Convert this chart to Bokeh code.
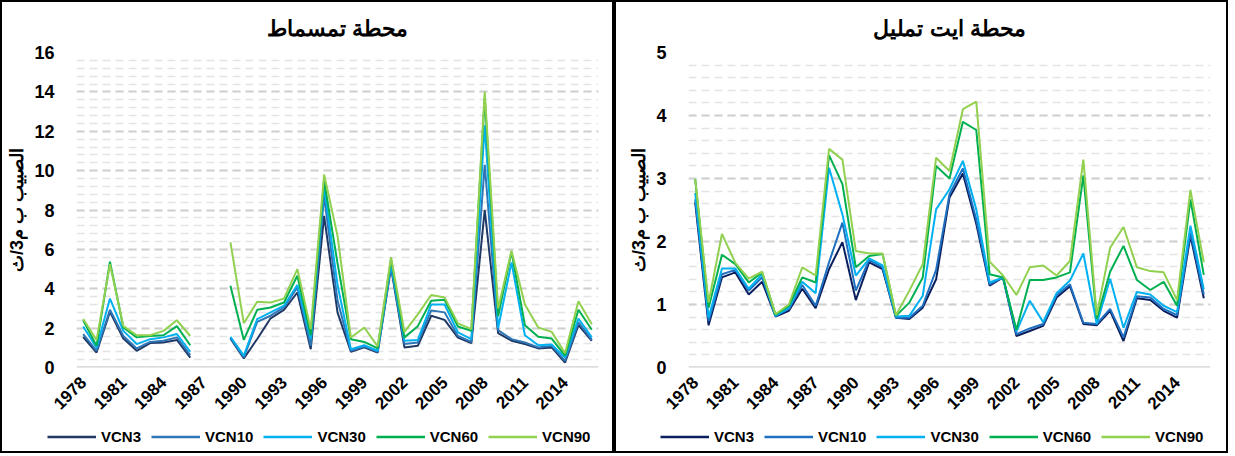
import math
from bokeh.plotting import figure
from bokeh.models import SingleIntervalTicker, FixedTicker, Legend, LegendItem, Span
from bokeh.layouts import row, column
from bokeh.embed import file_html
from bokeh.resources import INLINE

nan = float("nan")

years = list(range(1978, 2017))
tick_years = list(range(1978, 2015, 3))
series_names = ["VCN3", "VCN10", "VCN30", "VCN60", "VCN90"]

title_left = "محطة تمسماط"
title_right = "محطة ايت تمليل"
y_label = "الصبيب ب م3/ث"

# Left station (Tamsmat), 1987-1988 missing
vcn3_left = [1.55, 0.76, 2.83, 1.47, 0.85, 1.24, 1.27, 1.40, 0.50, nan, nan, 1.47, 0.46, 1.45, 2.50,
             2.93, 3.81, 0.93, 7.70, 2.80, 0.80, 1.02, 0.76, 5.08, 1.02, 1.10, 2.63, 2.42, 1.52, 1.24,
             8.00, 1.75, 1.36, 1.19, 0.97, 1.02, 0.25, 2.15, 1.36]
vcn10_left = [1.70, 0.85, 2.93, 1.60, 0.97, 1.30, 1.36, 1.53, 0.63, nan, nan, 1.52, 0.50, 2.32, 2.63,
              3.05, 4.07, 1.10, 8.70, 3.40, 0.85, 1.07, 0.80, 5.17, 1.19, 1.27, 2.90, 2.80, 1.60, 1.30,
              10.3, 1.90, 1.44, 1.27, 1.02, 1.10, 0.34, 2.29, 1.40]
vcn30_left = [2.08, 1.00, 3.50, 1.86, 1.19, 1.44, 1.53, 1.70, 0.80, nan, nan, 1.56, 0.60, 2.46, 2.80,
              3.14, 4.19, 1.44, 9.20, 4.20, 0.93, 1.13, 0.85, 5.25, 1.36, 1.40, 3.20, 3.20, 1.78, 1.44,
              12.3, 2.00, 5.34, 1.64, 1.13, 1.17, 0.50, 2.49, 1.53]
vcn60_left = [2.40, 1.10, 5.37, 2.03, 1.53, 1.60, 1.64, 2.10, 1.13, nan, nan, 4.15, 1.40, 2.93, 3.05,
              3.30, 4.66, 1.64, 9.50, 5.30, 1.44, 1.30, 0.97, 5.50, 1.53, 2.10, 3.39, 3.44, 2.08, 1.86,
              13.7, 2.60, 5.88, 2.15, 1.56, 1.47, 0.60, 2.93, 1.92]
vcn90_left = [2.46, 1.40, 5.25, 2.10, 1.64, 1.64, 1.86, 2.40, 1.60, nan, nan, 6.36, 2.25, 3.34, 3.30,
              3.50, 5.00, 1.95, 9.80, 6.70, 1.52, 2.03, 1.07, 5.60, 1.81, 2.70, 3.68, 3.56, 2.24, 1.95,
              14.0, 3.00, 5.93, 3.20, 2.03, 1.81, 0.73, 3.37, 2.20]

# Right station (Ait Tamlil)
vcn3_right = [2.62, 0.67, 1.43, 1.51, 1.16, 1.36, 0.81, 0.90, 1.25, 0.94, 1.56, 1.99, 1.07, 1.67, 1.56,
              0.79, 0.77, 0.95, 1.40, 2.70, 3.08, 2.28, 1.30, 1.43, 0.50, 0.58, 0.66, 1.11, 1.29, 0.69,
              0.67, 0.90, 0.42, 1.10, 1.07, 0.90, 0.79, 2.09, 1.10]
vcn10_right = [2.67, 0.74, 1.48, 1.55, 1.22, 1.43, 0.82, 0.93, 1.31, 0.98, 1.67, 2.30, 1.22, 1.71, 1.59,
               0.79, 0.79, 0.98, 1.55, 2.75, 3.16, 2.35, 1.32, 1.43, 0.53, 0.62, 0.69, 1.15, 1.32, 0.71,
               0.69, 0.93, 0.48, 1.13, 1.11, 0.93, 0.83, 2.14, 1.16]
vcn30_right = [2.77, 0.79, 1.57, 1.57, 1.25, 1.48, 0.82, 0.95, 1.36, 1.18, 3.17, 2.43, 1.46, 1.73, 1.62,
               0.81, 0.82, 1.14, 2.51, 2.83, 3.28, 2.51, 1.35, 1.43, 0.57, 1.06, 0.72, 1.18, 1.38, 1.81,
               0.69, 1.41, 0.63, 1.20, 1.16, 0.98, 0.88, 2.25, 1.24]
vcn60_right = [2.99, 0.95, 1.79, 1.64, 1.35, 1.51, 0.84, 0.98, 1.43, 1.35, 3.37, 2.91, 1.59, 1.77, 1.80,
               0.82, 1.03, 1.43, 3.20, 3.00, 3.90, 3.77, 1.48, 1.43, 0.60, 1.39, 1.39, 1.43, 1.51, 3.05,
               0.77, 1.52, 1.93, 1.39, 1.23, 1.36, 0.98, 2.67, 1.47]
vcn90_right = [2.99, 1.03, 2.12, 1.66, 1.41, 1.52, 0.85, 1.00, 1.59, 1.46, 3.47, 3.30, 1.85, 1.81, 1.81,
               0.83, 1.22, 1.64, 3.33, 3.12, 4.10, 4.22, 1.68, 1.46, 1.15, 1.59, 1.62, 1.46, 1.69, 3.30,
               0.83, 1.90, 2.23, 1.59, 1.53, 1.51, 1.07, 2.82, 1.67]

colors_left = ["#203864", "#2E75B6", "#00B0F0", "#00B050", "#92D050"]
colors_right = ["#0B1F5E", "#1F70C1", "#00B0F0", "#00B050", "#92D050"]

FONT = "Liberation Sans"
FRAME_W = 522
FRAME_H = 315
TOP = 48
BOTTOM = 54
LEG_H = 30


def make_panel(title, ymax, interval, data, colors, border_left, border_right, legend_x):
    p = figure(frame_width=FRAME_W, frame_height=FRAME_H, output_backend="svg", toolbar_location=None,
               x_range=(1977.5, 2016.5), y_range=(0, ymax),
               min_border_left=border_left, min_border_right=border_right,
               min_border_top=TOP, min_border_bottom=BOTTOM)
    p.outline_line_color = None
    p.background_fill_color = "white"
    p.border_fill_color = "white"

    p.title.text = title
    p.title.align = "center"
    p.title.text_font = FONT
    p.title.text_font_size = "22px"
    p.title.text_font_style = "bold"
    p.title.text_color = "#000000"
    p.title.standoff = 23

    p.yaxis.ticker = SingleIntervalTicker(interval=interval, num_minor_ticks=5)
    p.xaxis.ticker = FixedTicker(ticks=tick_years)
    for ax in (p.xaxis[0], p.yaxis[0]):
        ax.axis_line_color = None
        ax.major_tick_line_color = None
        ax.minor_tick_line_color = None
        ax.major_label_text_font = FONT
        ax.major_label_text_font_style = "bold"
        ax.major_label_text_color = "#000000"
    p.yaxis.major_label_text_font_size = "18px"
    p.yaxis.major_label_standoff = 16
    p.xaxis.major_label_text_font_size = "17px"
    p.xaxis.major_label_orientation = math.pi / 4
    p.xaxis.major_label_standoff = 6

    p.yaxis.axis_label = y_label
    p.yaxis.axis_label_text_font = FONT
    p.yaxis.axis_label_text_font_size = "18px"
    p.yaxis.axis_label_text_font_style = "bold"
    p.yaxis.axis_label_text_color = "#000000"
    p.yaxis.axis_label_standoff = 4

    p.xgrid.grid_line_color = None
    p.ygrid.grid_line_color = "#cfcfcf"
    p.ygrid.grid_line_width = 2
    p.ygrid.grid_line_dash = "8 5"
    p.ygrid.minor_grid_line_color = "#e4e4e4"
    p.ygrid.minor_grid_line_width = 1.5
    p.ygrid.minor_grid_line_dash = "8 5"

    p.add_layout(Span(location=0, dimension="width", line_color="#d0d0d0", line_width=2.5))

    for name, vals, col in zip(series_names, data, colors):
        p.line(years, vals, line_color=col, line_width=2)

    # legend strip below the chart (its own lines fall outside its (0,1) ranges)
    width = border_left + FRAME_W + border_right
    lg = figure(frame_width=width, frame_height=LEG_H, output_backend="svg", toolbar_location=None,
                x_range=(0, 1), y_range=(0, 1), x_axis_location=None, y_axis_location=None,
                min_border=0)
    lg.outline_line_color = None
    lg.grid.visible = False
    lg.background_fill_color = "white"
    lg.border_fill_color = "white"
    items = []
    for name, vals, col in zip(series_names, data, colors):
        r = lg.line(years, vals, line_color=col, line_width=2.5)
        items.append(LegendItem(label=name, renderers=[r]))
    legend = Legend(items=items, orientation="horizontal", location=(legend_x, 6),
                    glyph_width=49, glyph_height=17, label_standoff=5, spacing=10,
                    padding=0, margin=0, border_line_color=None, background_fill_alpha=0,
                    label_text_font=FONT, label_text_font_size="15px",
                    label_text_font_style="bold", label_text_color="#000000")
    lg.add_layout(legend, "center")

    panel = column(p, lg, spacing=0, styles={"border": "2px solid #000000"})
    return panel


left = make_panel(title_left, 16, 2,
                  [vcn3_left, vcn10_left, vcn30_left, vcn60_left, vcn90_left],
                  colors_left, 74, 14, 45)
right = make_panel(title_right, 5, 1,
                   [vcn3_right, vcn10_right, vcn30_right, vcn60_right, vcn90_right],
                   colors_right, 72, 16, 44)

layout = row(left, right, spacing=0)
open("out.html", "w").write(file_html(layout, INLINE))
